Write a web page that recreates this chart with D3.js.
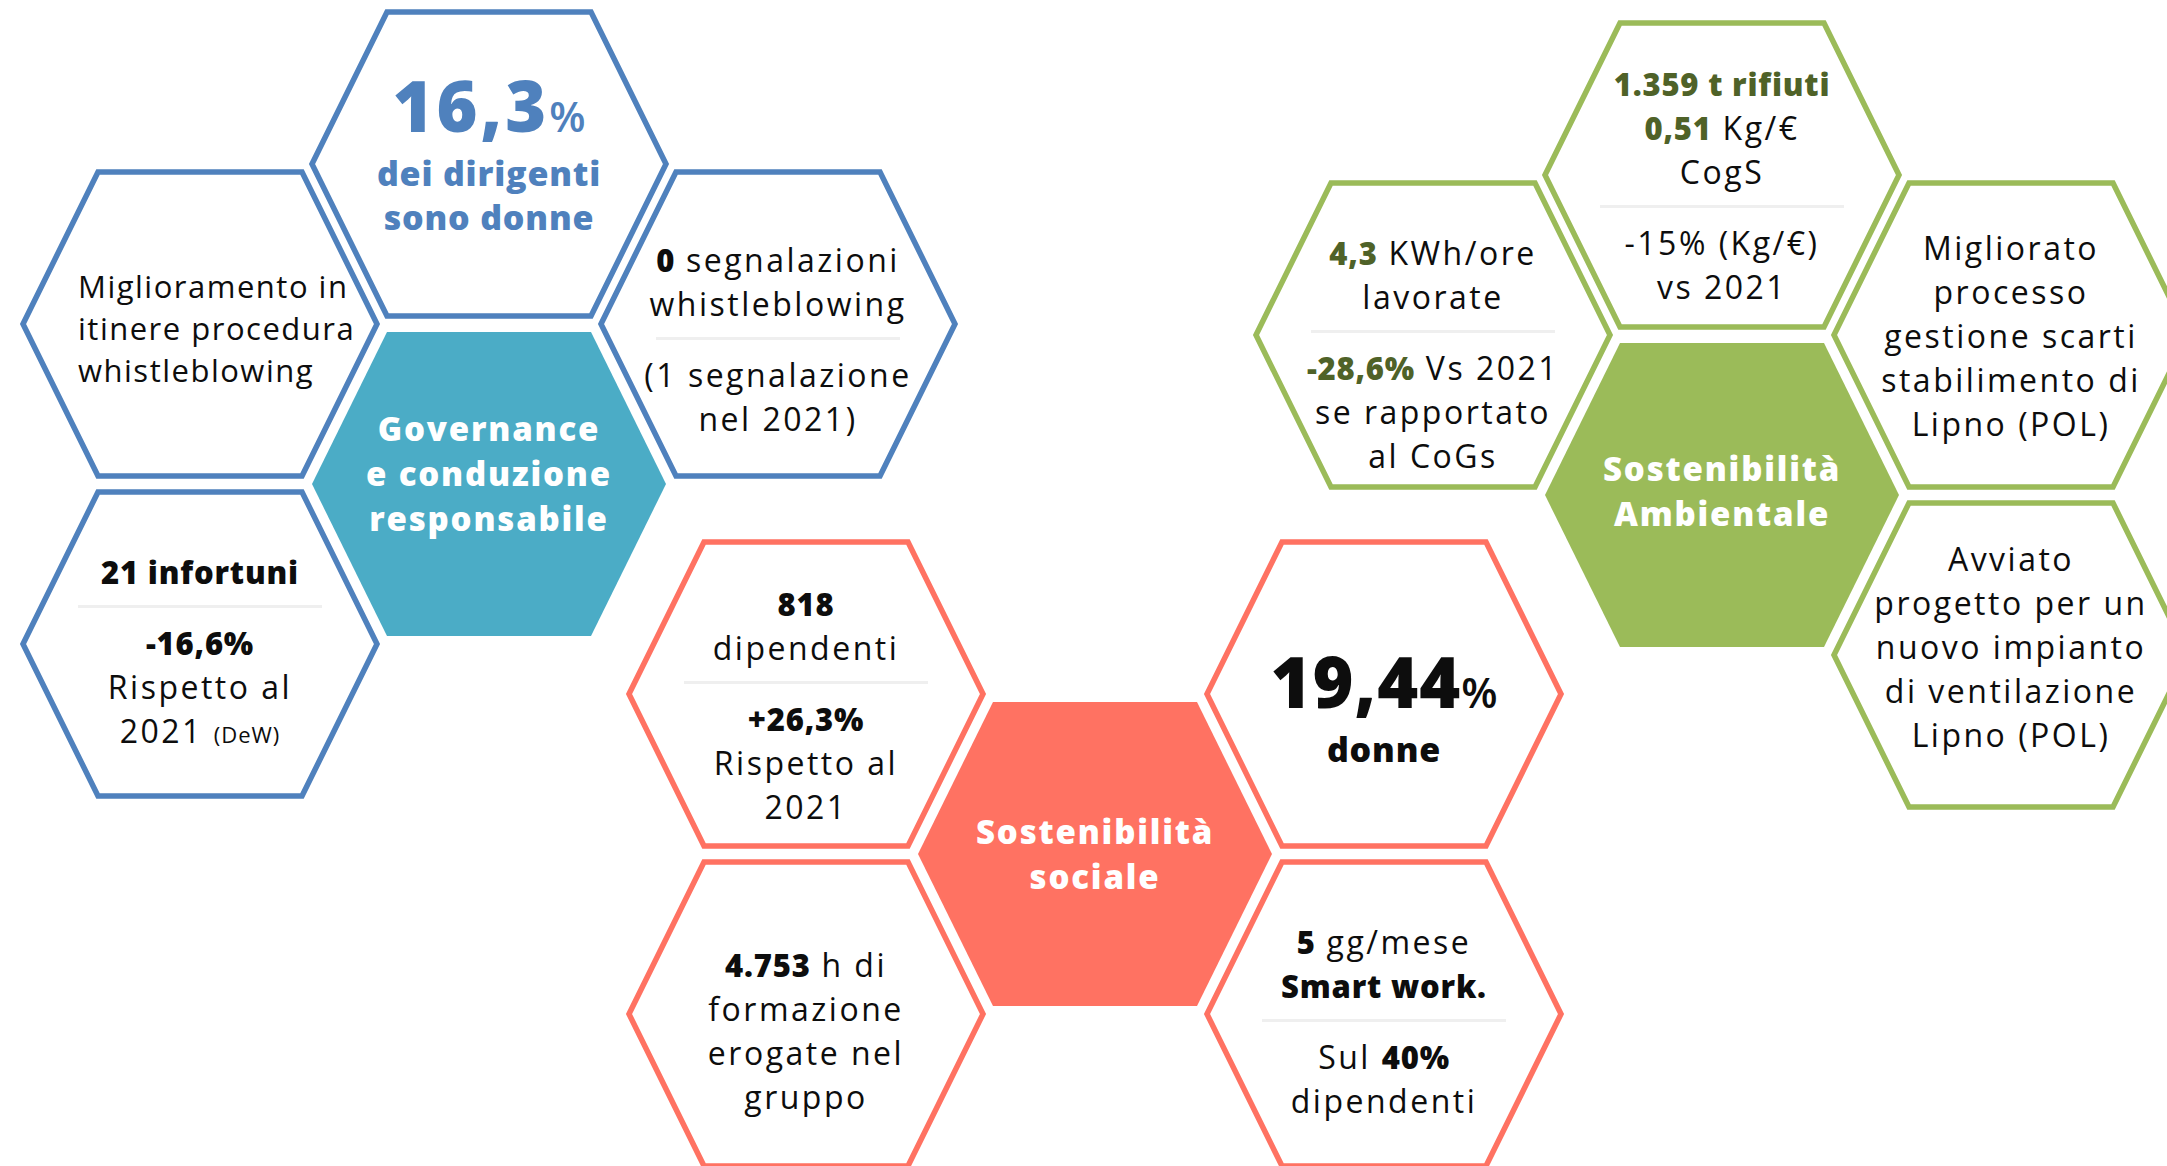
<!DOCTYPE html>
<html>
<head>
<meta charset="utf-8">
<script src="https://cdn.jsdelivr.net/npm/d3@7/dist/d3.min.js"></script>
<style>
html, body { margin: 0; padding: 0; background: #fff; overflow: hidden; }
text { font-family: "Open Sans", Lato, sans-serif; white-space: pre; }
</style>
</head>
<body>
<div id="chart"></div>
<script>

// titles of the three centre hexagons
var clusterTitles = [
    ["Governance", "e conduzione", "responsabile"],
    ["Sostenibilità", "sociale"],
    ["Sostenibilità", "Ambientale"]
];

// text of the outer cells
// [b:..] bold, [a:..] bold in the cluster colour, [h:..]/[H:..] large bold,
// [B:..]/[A:..] big number, [p:..]/[P:..] percent next to it, [s:..] small, "---" divider
var governanceCells = [
    ["[A:16,3][P:%]", "[h:dei dirigenti]", "[h:sono donne]"],
    ["Miglioramento in", "itinere procedura", "whistleblowing"],
    ["[b:0] segnalazioni", "whistleblowing", "---", "(1 segnalazione", "nel 2021)"],
    ["[b:21 infortuni]", "---", "[b:-16,6%]", "Rispetto al", "2021 [s:(DeW)]"]
];

var socialCells = [
    ["[b:818]", "dipendenti", "---", "[b:+26,3%]", "Rispetto al", "2021"],
    ["[b:4.753] h di", "formazione", "erogate nel", "gruppo"],
    ["[B:19,44][p:%]", "[H:donne]"],
    ["[b:5] gg/mese", "[b:Smart work.]", "---", "Sul [b:40%]", "dipendenti"]
];

var environmentCells = [
    ["[a:1.359 t rifiuti]", "[a:0,51] Kg/€", "CogS", "---", "-15% (Kg/€)", "vs 2021"],
    ["[a:4,3] KWh/ore", "lavorate", "---", "[a:-28,6%] Vs 2021", "se rapportato", "al CoGs"],
    ["Migliorato", "processo", "gestione scarti", "stabilimento di", "Lipno (POL)"],
    ["Avviato", "progetto per un", "nuovo impianto", "di ventilazione", "Lipno (POL)"]
];


// ---- layout (hex grid, one origin per cluster) ----
var W = 2167, H = 1166;
var hexW = 177, hexH = 152, hexInset = 75;   // half width, half height, slant
var colStep = 289, rowStep = 160;

var clusters = [
    { title: clusterTitles[0], cells: governanceCells, origin: [489, 484],
      stroke: "#4F81BD", fill: "#4BACC6", accent: "#4F81BD",
      grid: [[0, -2], [-1, -1], [1, -1], [-1, 1]],
      shift: [0, 5, 16, 8], size: [32, 31, 32, 32], ls: [2.5, 1.5, 2.5, 2.5], lh: [44, 42, 44, 44],
      align: ["middle", "start", "middle", "middle"], titleShift: -10 },
    { title: clusterTitles[1], cells: socialCells, origin: [1095, 854],
      stroke: "#FF7262", fill: "#FF7262", accent: "#000",
      grid: [[-1, -1], [-1, 1], [1, -1], [1, 1]],
      shift: [12, 18, 24, 8], size: [32, 32, 32, 32], ls: [2.5, 2.5, 2.5, 2.5], lh: [44, 44, 44, 44],
      align: ["middle", "middle", "middle", "middle"], titleShift: 0 },
    { title: clusterTitles[2], cells: environmentCells, origin: [1722, 495],
      stroke: "#9BBB59", fill: "#9BBB59", accent: "#4F6228",
      grid: [[0, -2], [-1, -1], [1, -1], [1, 1]],
      shift: [11, 20, 2, -7], size: [32, 32, 32, 32], ls: [2.5, 2.5, 2.5, 2.5], lh: [44, 44, 44, 44],
      align: ["middle", "middle", "middle", "middle"], titleShift: -4 }
];

// size / ls null = the cell's body setting
var roles = {
    t: { size: null, weight: 400, ls: null, accent: false },
    b: { size: 31, weight: 800, ls: 0.8, accent: false },
    a: { size: 31, weight: 800, ls: 0.8, accent: true },
    h: { size: 34, weight: 800, ls: 0.8, accent: true },
    H: { size: 34, weight: 800, ls: 0.8, accent: false },
    B: { size: 70, weight: 800, ls: 1, accent: false },
    A: { size: 70, weight: 800, ls: 3, accent: true },
    p: { size: 42, weight: 600, ls: 0, accent: false },
    P: { size: 42, weight: 600, ls: 0, accent: true },
    s: { size: 22, weight: 400, ls: 1, accent: false }
};

function parseLine(str) {
    var out = [], re = /\[(\w):([^\]]+)\]/g, last = 0, m;
    while ((m = re.exec(str)) !== null) {
        if (m.index > last) out.push({ role: "t", text: str.slice(last, m.index) });
        out.push({ role: m[1], text: m[2] });
        last = re.lastIndex;
    }
    if (last < str.length) out.push({ role: "t", text: str.slice(last) });
    return out;
}

var svg = d3.select("#chart").append("svg")
    .attr("width", W)
    .attr("height", H);

svg.append("rect").attr("width", W).attr("height", H).attr("fill", "#fff");

var hexLine = d3.line().curve(d3.curveLinearClosed);

function hexPoints() {
    return [[-hexW, 0], [-hexW + hexInset, -hexH], [hexW - hexInset, -hexH],
            [hexW, 0], [hexW - hexInset, hexH], [-hexW + hexInset, hexH]];
}

clusters.forEach(function(cl) {
    var x = d3.scaleLinear().domain([-1, 1]).range([cl.origin[0] - colStep, cl.origin[0] + colStep]);
    var y = d3.scaleLinear().domain([-1, 1]).range([cl.origin[1] - rowStep, cl.origin[1] + rowStep]);

    var g = svg.append("g");

    // centre hexagon
    var cg = g.append("g").attr("transform", "translate(" + x(0) + "," + y(0) + ")");
    cg.append("path").attr("d", hexLine(hexPoints())).attr("fill", cl.fill);
    var tLh = 45;
    cl.title.forEach(function(line, i) {
        cg.append("text")
            .attr("x", 0)
            .attr("y", (i - (cl.title.length - 1) / 2) * tLh + cl.titleShift + 12)
            .attr("text-anchor", "middle")
            .attr("font-size", 33)
            .attr("font-weight", 800)
            .attr("letter-spacing", 1.8)
            .attr("fill", "#fff")
            .text(line);
    });

    // outer cells
    cl.cells.forEach(function(lines, ci) {
        var pos = cl.grid[ci];
        var cx = x(pos[0]), cy = y(pos[1]);
        var hg = g.append("g").attr("transform", "translate(" + cx + "," + cy + ")");
        hg.append("path")
            .attr("d", hexLine(hexPoints()))
            .attr("fill", "#fff")
            .attr("stroke", cl.stroke)
            .attr("stroke-width", 5.5)
            .attr("stroke-linejoin", "miter");

        // vertical layout of the lines (baselines)
        var items = [], b = 0, pendingDivider = false, lh = cl.lh[ci];
        lines.forEach(function(str) {
            if (str === "---") { pendingDivider = true; return; }
            var tokens = parseLine(str);
            var big = tokens.some(function(t) { return t.role === "B" || t.role === "A"; });
            var off = big ? 23 : 11;
            if (items.length) {
                var prev = items[items.length - 1];
                if (pendingDivider) {
                    var dy = prev.centre + 34;
                    items.push({ divider: true, centre: dy });
                    b = dy + 37 + off;
                } else {
                    b = prev.base + (prev.big ? 54 : lh);
                }
            }
            pendingDivider = false;
            items.push({ tokens: tokens, base: b, centre: b - off, big: big });
        });
        var textItems = items.filter(function(d) { return !d.divider; });
        var mid = (textItems[0].centre + textItems[textItems.length - 1].centre) / 2;
        var shiftY = cl.shift[ci] - mid;
        var anchor = cl.align[ci];
        var tx = anchor === "start" ? -122 : 0;

        items.forEach(function(it) {
            if (it.divider) {
                hg.append("line")
                    .attr("x1", -122).attr("x2", 122)
                    .attr("y1", it.centre + shiftY).attr("y2", it.centre + shiftY)
                    .attr("stroke", "#EFEFEF")
                    .attr("stroke-width", 3);
                return;
            }
            var t = hg.append("text")
                .attr("x", tx)
                .attr("y", it.base + shiftY)
                .attr("text-anchor", anchor)
                .attr("fill", "#0D0D0D");
            it.tokens.forEach(function(tok) {
                var r = roles[tok.role];
                t.append("tspan")
                    .attr("font-size", r.size || cl.size[ci])
                    .attr("font-weight", r.weight)
                    .attr("letter-spacing", r.ls === null ? cl.ls[ci] : r.ls)
                    .attr("fill", r.accent ? cl.accent : "#0D0D0D")
                    .text(tok.text);
            });
        });
    });
});

</script>
</body>
</html>
